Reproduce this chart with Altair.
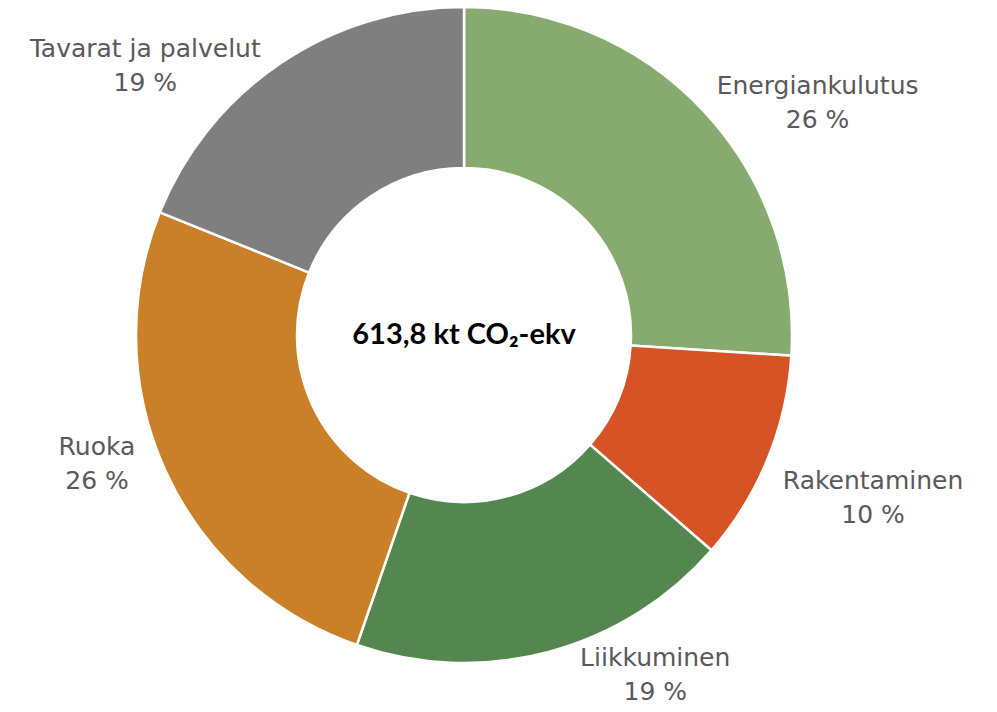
import altair as alt
import pandas as pd

categories = ["Energiankulutus", "Rakentaminen", "Liikkuminen", "Ruoka", "Tavarat ja palvelut"]
values_kt = [159.6, 63.8, 116.0, 158.4, 116.0]
colors = ["#87AB6E", "#D55324", "#548650", "#C98028", "#7F7F7F"]

df = pd.DataFrame({"category": categories, "value": values_kt, "order": list(range(len(categories)))})

CX, CY = 456, 327
R_OUT, R_IN = 328, 167
LABEL_R = 400
# label nudges (style only)
nudges = {
    "Energiankulutus": (62, 25),
    "Rakentaminen": (39, -6),
    "Liikkuminen": (88, -63),
    "Ruoka": (-3, -54),
    "Tavarat ja palvelut": (-95, 46),
}

theta_scale = alt.Scale(domain=[0, 1])

base = (
    alt.Chart(df)
    .transform_joinaggregate(total="sum(value)")
    .transform_window(cum="sum(value)", sort=[alt.SortField("order")], frame=[None, 0])
    .transform_calculate(
        start="(datum.cum - datum.value) / datum.total",
        end="datum.cum / datum.total",
        mid="(datum.cum - datum.value / 2) / datum.total",
        label="datum.category + '\\n' + format(datum.value / datum.total * 100, '.0f') + ' %'",
    )
)

arcs = base.mark_arc(radius=R_OUT, radius2=R_IN, stroke="white", strokeWidth=2.5).encode(
    theta=alt.Theta("start:Q", scale=theta_scale),
    theta2="end:Q",
    color=alt.Color("category:N", scale=alt.Scale(domain=categories, range=colors), legend=None),
    x=alt.value(CX),
    y=alt.value(CY),
)

label_layers = []
for cat in categories:
    dx, dy = nudges[cat]
    lyr = (
        base.transform_filter(alt.datum.category == cat)
        .mark_text(
            font="DejaVu Sans",
            fontSize=25,
            color="#595959",
            lineBreak="\n",
            lineHeight=34,
            align="center",
            baseline="middle",
            dx=dx,
            dy=dy,
        )
        .encode(
            theta=alt.Theta("mid:Q", scale=theta_scale),
            radius=alt.value(LABEL_R),
            text="label:N",
            x=alt.value(CX),
            y=alt.value(CY),
        )
    )
    label_layers.append(lyr)

center = (
    alt.Chart(df)
    .transform_aggregate(total="sum(value)")
    .transform_calculate(txt="replace(format(datum.total, '.1f'), '.', ',') + ' kt CO₂-ekv'")
    .mark_text(font="Lato", fontWeight="bold", fontSize=29, color="#000000", align="center", baseline="middle")
    .encode(text="txt:N", x=alt.value(CX), y=alt.value(CY))
)

chart = (
    alt.layer(arcs, *label_layers, center)
    .properties(width=981, height=703, padding=0, autosize=alt.AutoSizeParams(type="none"))
    .configure_view(stroke=None)
)

chart.save("out.html", embed_options={"renderer": "svg", "actions": False})
